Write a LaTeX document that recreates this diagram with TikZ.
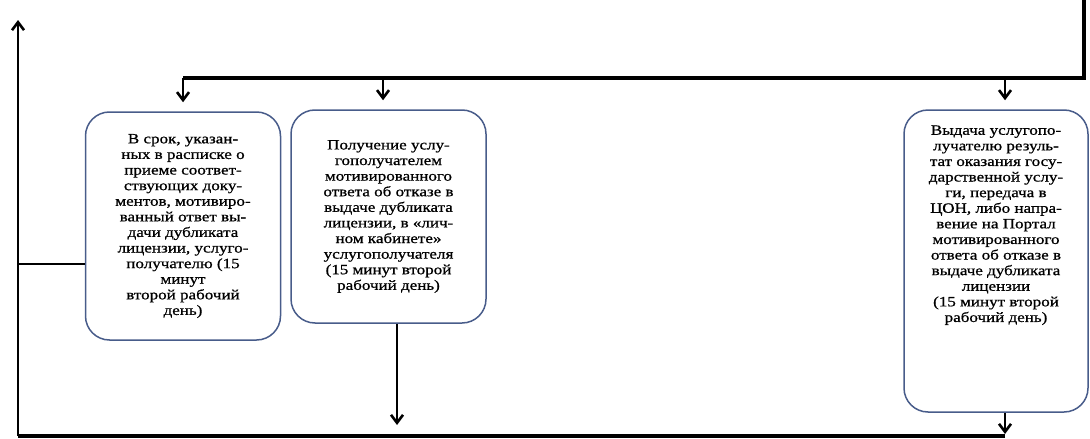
\documentclass[tikz,border=0pt]{standalone}
\usepackage{fontspec}
\setmainfont{Liberation Serif}
\newfontfamily\boxfont[FakeStretch=1.2,FakeBold=0.8]{Liberation Serif}
\usepackage{tikz}
\usetikzlibrary{arrows.meta,positioning}

\definecolor{boxline}{RGB}{72,92,138}

\tikzset{
	stepbox/.style={draw=boxline, line width=1.5pt, rounded corners=24pt, fill=white},
	boxtext/.style={align=center, font=\boxfont\fontsize{14.2}{15.6}\selectfont, inner sep=0pt},
	flow/.style={black, line width=2.9pt},
	arr/.style={flow, -{Straight Barb[length=8pt,width=12pt,line width=2.6pt]}}
}

\begin{document}
\begin{tikzpicture}[x=1pt,y=-1pt]
				\useasboundingbox (0,0) rectangle (1090,439);
				
				% boxes
				\node[stepbox, minimum width=195pt, minimum height=228pt, boxtext] (box1) at (183,226)
				{В срок, указан-\\ных в расписке о\\приеме соответ-\\ствующих доку-\\ментов, мотивиро-\\ванный ответ  вы-\\дачи  дубликата\\лицензии, услуго-\\получателю  (15\\минут\\второй рабочий\\день)};
				\node[stepbox, minimum width=195pt, minimum height=213pt, boxtext] (box2) at (388.5,216.5)
				{Получение услу-\\гополучателем\\мотивированного\\ответа об отказе в\\выдаче  дубликата\\лицензии, в «лич-\\ном кабинете»\\услугополучателя\\(15 минут второй\\рабочий день)};
				\node[stepbox, minimum width=184pt, minimum height=302pt] (box3) at (996,261) {};
				\node[boxtext, below=16pt of box3.north] (txt3)
				{Выдача услугопо-\\лучателю резуль-\\тат оказания госу-\\дарственной услу-\\ги, передача в\\ЦОН, либо напра-\\вение на Портал\\мотивированного\\ответа об отказе в\\выдаче дубликата\\лицензии\\(15 минут второй\\рабочий день)};
				
				% top line
				\coordinate (top) at (1084,0);
				\coordinate (corner) at (1084,78);
				\coordinate (j1) at (183,78);
				\coordinate (j2) at (383,78);
				\coordinate (j3) at (1005,78);
				\draw[flow, line width=3.8pt] (top) -- (corner) -- (j1);
				\draw[arr, shorten >=9pt] (j1) -- (j1 |- box1.north);
				\draw[arr, shorten >=9pt] (j2) -- (j2 |- box2.north);
				\draw[arr, shorten >=9pt] (j3) -- (j3 |- box3.north);
				
				% return line
				\coordinate (up) at (18,20);
				\coordinate (bl) at (18,436);
				\coordinate (br) at (1005,436);
				\coordinate (l1) at (18,264);
				\coordinate (d2) at (397,436);
				\draw[flow, line width=3.4pt] (br) -- (bl);
				\draw[arr] (bl) -- (up);
				\draw[flow] (l1) -- (l1 -| box1.west);
				\draw[arr, shorten >=11pt] (d2 |- box2.south) -- (d2);
				\draw[arr, shorten >=2pt] (br |- box3.south) -- (br);
				
\end{tikzpicture}
\end{document}
